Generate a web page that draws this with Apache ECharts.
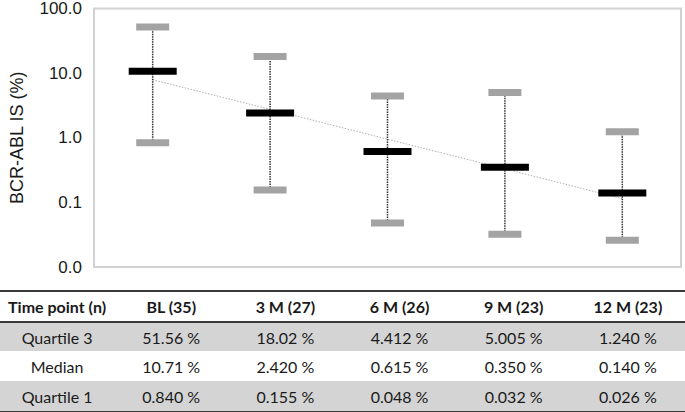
<!DOCTYPE html>
<html>
<head>
<meta charset="utf-8">
<script src="https://cdn.jsdelivr.net/npm/echarts@6/dist/echarts.min.js"></script>
<style>
  html, body { margin: 0; padding: 0; background: #fff; }
  #wrap { position: relative; width: 685px; height: 412px; overflow: hidden; }
  #chart { position: absolute; left: 0; top: 0; width: 685px; height: 290px; }
  #tbl { position: absolute; left: 0; top: 290px; width: 685px; border-collapse: collapse; table-layout: fixed;
         font-family: "Lato", "Open Sans", sans-serif; font-size: 16px; color: #1a1a1a; }
  #tbl td { text-align: center; padding: 0; }
  #tbl tr.h td { font-weight: bold; height: 29px; border-top: 2px solid #3a3a3a; border-bottom: 2px solid #3a3a3a; }
  #tbl tr.g td { background: #d4d4d4; }
  #tbl tr.r1 td { height: 28px; }
  #tbl tr.r2 td { height: 30px; }
  #tbl tr.r3 td { height: 30px; border-bottom: 2px solid #3a3a3a; }
</style>
</head>
<body>
<div id="wrap">
  <div id="chart"></div>
  <table id="tbl"></table>
</div>
<script>
// ---- data ----
const categories = ['BL (35)', '3 M (27)', '6 M (26)', '9 M (23)', '12 M (23)'];
const quartile3 = [51.56, 18.02, 4.412, 5.005, 1.240];
const median = [10.71, 2.420, 0.615, 0.350, 0.140];
const quartile1 = [0.840, 0.155, 0.048, 0.032, 0.026];
const quartile3Text = ['51.56 %', '18.02 %', '4.412 %', '5.005 %', '1.240 %'];
const medianText = ['10.71 %', '2.420 %', '0.615 %', '0.350 %', '0.140 %'];
const quartile1Text = ['0.840 %', '0.155 %', '0.048 %', '0.032 %', '0.026 %'];
const trendValues = [7.9, 2.75, 0.95, 0.33, 0.114];
const yTicks = [0.01, 0.1, 1, 10, 100];
const tableHeader = 'Time point (n)';
const rowLabels = ['Quartile 3', 'Median', 'Quartile 1'];

// ---- table ----
(function buildTable() {
  const t = document.getElementById('tbl');
  const rows = [
    { cls: 'h', cells: [tableHeader].concat(categories) },
    { cls: 'g r1', cells: [rowLabels[0]].concat(quartile3Text) },
    { cls: 'r2', cells: [rowLabels[1]].concat(medianText) },
    { cls: 'g r3', cells: [rowLabels[2]].concat(quartile1Text) }
  ];
  rows.forEach(r => {
    const tr = document.createElement('tr');
    tr.className = r.cls;
    r.cells.forEach(c => {
      const td = document.createElement('td');
      td.textContent = c;
      tr.appendChild(td);
    });
    t.appendChild(tr);
  });
})();

// ---- chart ----
const chart = echarts.init(document.getElementById('chart'), null, { renderer: 'svg' });
const boxData = categories.map((c, i) => [i, quartile1[i], median[i], quartile3[i]]);

function renderBox(params, api) {
  const idx = api.value(0);
  const pQ1 = api.coord([idx, api.value(1)]);
  const pMed = api.coord([idx, api.value(2)]);
  const pQ3 = api.coord([idx, api.value(3)]);
  const qw = 33, mw = 48, h = 7;
  return {
    type: 'group',
    children: [
      {
        type: 'line',
        shape: { x1: pQ1[0], y1: pQ1[1], x2: pQ3[0], y2: pQ3[1] },
        style: { stroke: '#333', lineWidth: 1.5, lineDash: [1.5, 1] }
      },
      {
        type: 'rect',
        shape: { x: pQ3[0] - qw / 2, y: pQ3[1] - h / 2, width: qw, height: h },
        style: { fill: '#a3a3a3' }
      },
      {
        type: 'rect',
        shape: { x: pQ1[0] - qw / 2, y: pQ1[1] - h / 2, width: qw, height: h },
        style: { fill: '#a3a3a3' }
      },
      {
        type: 'rect',
        shape: { x: pMed[0] - mw / 2, y: pMed[1] - h / 2, width: mw, height: h },
        style: { fill: '#000' }
      }
    ]
  };
}

chart.setOption({
  animation: false,
  grid: { left: 94, right: 4, top: 6, bottom: 23, show: true, borderColor: '#d2d2d2', borderWidth: 2 },
  xAxis: {
    type: 'category',
    data: categories,
    boundaryGap: true,
    axisLine: { show: false },
    axisTick: { show: false },
    axisLabel: { show: false },
    splitLine: { show: false }
  },
  yAxis: {
    type: 'log',
    logBase: 10,
    min: yTicks[0],
    max: yTicks[yTicks.length - 1],
    name: 'BCR-ABL IS (%)',
    nameLocation: 'middle',
    nameGap: 68,
    nameTextStyle: { fontFamily: 'Liberation Sans, Arial, sans-serif', fontSize: 18, color: '#1a1a1a' },
    axisLine: { show: false },
    axisTick: { show: false },
    splitLine: { show: false },
    axisLabel: {
      fontFamily: 'Liberation Sans, Arial, sans-serif',
      fontSize: 17,
      color: '#1a1a1a',
      margin: 12,
      formatter: v => Number(v).toFixed(1)
    }
  },
  series: [
    {
      type: 'line',
      data: trendValues,
      symbol: 'none',
      lineStyle: { color: '#b0b0b0', width: 1, type: [1.5, 1.5] },
      z: 1
    },
    {
      type: 'custom',
      renderItem: renderBox,
      data: boxData,
      encode: { x: 0, y: [1, 2, 3] },
      z: 2
    }
  ]
});
</script>
</body>
</html>
